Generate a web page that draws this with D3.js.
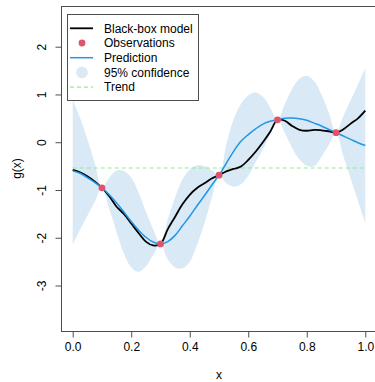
<!DOCTYPE html>
<html>
<head>
<meta charset="utf-8">
<script src="https://cdn.jsdelivr.net/npm/d3@7"></script>
<style>
  body { margin: 0; background: #fff; }
  svg { display: block; font-family: "Liberation Sans", Arial, sans-serif; }
  .axis-label { font-size: 12px; fill: #000; }
</style>
</head>
<body>
<svg id="chart"></svg>
<script>
// grid the curves were read on
const xGrid = [0, 0.025, 0.05, 0.075, 0.1, 0.125, 0.15, 0.175, 0.2, 0.225, 0.25, 0.275, 0.3,
  0.325, 0.35, 0.375, 0.4, 0.425, 0.45, 0.475, 0.5, 0.525, 0.55, 0.575, 0.6, 0.625, 0.65,
  0.675, 0.7, 0.725, 0.75, 0.775, 0.8, 0.825, 0.85, 0.875, 0.9, 0.925, 0.95, 0.975, 1.0];

// black-box model g(x)
const modelY = [-0.58, -0.63, -0.71, -0.82, -0.955, -1.13, -1.35, -1.50, -1.70, -1.90, -2.08, -2.16, -2.13,
  -1.82, -1.56, -1.30, -1.10, -0.96, -0.86, -0.76, -0.69, -0.61, -0.56, -0.51, -0.37, -0.20, 0.00,
  0.22, 0.47, 0.45, 0.34, 0.26, 0.24, 0.26, 0.25, 0.23, 0.20, 0.27, 0.39, 0.50, 0.66];

// kriging prediction
const predY = [-0.60, -0.65, -0.74, -0.84, -0.955, -1.10, -1.27, -1.46, -1.66, -1.84, -1.99, -2.09, -2.13,
  -2.08, -1.95, -1.75, -1.55, -1.33, -1.12, -0.90, -0.69, -0.44, -0.19, 0.02, 0.16, 0.28, 0.38,
  0.44, 0.47, 0.50, 0.505, 0.49, 0.46, 0.40, 0.34, 0.27, 0.20, 0.13, 0.06, -0.01, -0.07];

// 95% band
const upperY = [0.90, 0.51, 0.06, -0.43, -0.955, -0.74, -0.59, -0.60, -0.74, -1.05, -1.45, -1.82, -2.13,
  -1.62, -1.15, -0.78, -0.57, -0.48, -0.50, -0.58, -0.69, -0.05, 0.48, 0.80, 0.98, 1.04, 0.95,
  0.72, 0.47, 0.80, 1.12, 1.33, 1.39, 1.28, 1.00, 0.62, 0.20, 0.55, 0.88, 1.21, 1.55];
const lowerY = [-2.14, -1.83, -1.54, -1.25, -0.955, -1.40, -1.88, -2.33, -2.62, -2.71, -2.60, -2.36, -2.13,
  -2.45, -2.62, -2.64, -2.50, -2.15, -1.70, -1.18, -0.69, -0.86, -0.93, -0.88, -0.70, -0.42, -0.15,
  0.17, 0.47, 0.20, -0.12, -0.36, -0.49, -0.50, -0.31, -0.06, 0.20, -0.29, -0.76, -1.23, -1.69];

const obsX = [0.1, 0.3, 0.5, 0.7, 0.9];
const obsY = [-0.955, -2.13, -0.69, 0.47, 0.20];
const trendValue = -0.54;

const xTicks = [0, 0.2, 0.4, 0.6, 0.8, 1.0];
const xTickLabels = ['0.0', '0.2', '0.4', '0.6', '0.8', '1.0'];
const yTicks = [-3, -2, -1, 0, 1, 2];
const yTickLabels = ['-3', '-2', '-1', '0', '1', '2'];

const legendLabels = ['Black-box model', 'Observations', 'Prediction', '95% confidence', 'Trend'];

const colors = {
  model: '#000000',
  obs: '#DF536B',
  pred: '#2297E6',
  band: '#d9e9f6',
  trend: '#90ee90',
  axis: '#4d4d4d'
};

const width = 375, height = 382;
const plot = {left: 61, top: 6, right: 377, bottom: 331};

const svg = d3.select('#chart')
    .attr('width', width)
    .attr('height', height);

const x = d3.scaleLinear().domain([-0.04, 1.04]).range([plot.left, plot.right]);
const y = d3.scaleLinear().domain([-3.952, 2.852]).range([plot.bottom, plot.top]);

svg.append('clipPath')
    .attr('id', 'plot-clip')
  .append('rect')
    .attr('x', plot.left).attr('y', plot.top)
    .attr('width', plot.right - plot.left).attr('height', plot.bottom - plot.top);

const rows = xGrid.map((d, i) => ({
  x: d, model: modelY[i], pred: predY[i], lo: lowerY[i], hi: upperY[i]
}));

const chart = svg.append('g').attr('clip-path', 'url(#plot-clip)');

// confidence band
chart.append('path')
    .datum(rows)
    .attr('fill', colors.band)
    .attr('d', d3.area()
        .x(d => x(d.x))
        .y0(d => y(d.lo))
        .y1(d => y(d.hi))
        .curve(d3.curveCatmullRom.alpha(0.5)));

// trend
chart.append('line')
    .attr('x1', x(0)).attr('x2', x(1))
    .attr('y1', y(trendValue)).attr('y2', y(trendValue))
    .attr('stroke', colors.trend)
    .attr('stroke-width', 1.2)
    .attr('stroke-dasharray', '4,3');

const line = key => d3.line()
    .x(d => x(d.x))
    .y(d => y(d[key]))
    .curve(d3.curveCatmullRom.alpha(0.5));

chart.append('path')
    .datum(rows)
    .attr('fill', 'none')
    .attr('stroke', colors.model)
    .attr('stroke-width', 1.8)
    .attr('d', line('model'));

chart.append('path')
    .datum(rows)
    .attr('fill', 'none')
    .attr('stroke', colors.pred)
    .attr('stroke-width', 1.5)
    .attr('d', line('pred'));

chart.selectAll('circle.obs')
    .data(obsX.map((d, i) => ({x: d, y: obsY[i]})))
    .join('circle')
    .attr('class', 'obs')
    .attr('cx', d => x(d.x))
    .attr('cy', d => y(d.y))
    .attr('r', 3.4)
    .attr('fill', colors.obs);

// box
svg.append('rect')
    .attr('x', plot.left + 0.5).attr('y', plot.top + 0.5)
    .attr('width', plot.right - plot.left).attr('height', plot.bottom - plot.top)
    .attr('fill', 'none')
    .attr('stroke', colors.axis);

// x axis, R style
const xAxis = d3.axisBottom(x)
    .tickValues(xTicks)
    .tickFormat((d, i) => xTickLabels[i])
    .tickSize(6)
    .tickPadding(5)
    .tickSizeOuter(0);

const xAxisG = svg.append('g')
    .attr('transform', `translate(0,${plot.bottom + 0.5})`)
    .call(xAxis);
xAxisG.select('.domain')
    .attr('d', `M${x(0)},0H${x(1)}`)
    .attr('stroke', colors.axis);

// y axis, labels turned as in R
const yAxis = d3.axisLeft(y)
    .tickValues(yTicks)
    .tickFormat((d, i) => yTickLabels[i])
    .tickSize(6)
    .tickSizeOuter(0);

const yAxisG = svg.append('g')
    .attr('transform', `translate(${plot.left + 0.5},0)`)
    .call(yAxis);
yAxisG.select('.domain')
    .attr('d', `M0,${y(-3)}V${y(2)}`)
    .attr('stroke', colors.axis);
yAxisG.selectAll('.tick text')
    .attr('x', null).attr('dy', null)
    .attr('transform', 'translate(-16,0) rotate(-90)')
    .attr('text-anchor', 'middle');

svg.selectAll('.tick line').attr('stroke', colors.axis);
svg.selectAll('.tick text')
    .attr('font-size', 12)
    .attr('font-family', '"Liberation Sans", Arial, sans-serif')
    .attr('fill', '#000');

// axis titles
svg.append('text')
    .attr('class', 'axis-label')
    .attr('x', (plot.left + plot.right) / 2)
    .attr('y', 379)
    .attr('text-anchor', 'middle')
    .text('x');

svg.append('text')
    .attr('class', 'axis-label')
    .attr('transform', `translate(21,${(plot.top + plot.bottom) / 2}) rotate(-90)`)
    .attr('text-anchor', 'middle')
    .text('g(x)');

// legend
const legend = svg.append('g').attr('transform', 'translate(67.5,14.5)');
legend.append('rect')
    .attr('width', 131).attr('height', 86)
    .attr('fill', '#fff')
    .attr('stroke', colors.axis);

const rowH = 14.7, row0 = 13.8;
const item = legend.selectAll('g.item')
    .data(legendLabels)
    .join('g')
    .attr('class', 'item')
    .attr('transform', (d, i) => `translate(0,${row0 + i * rowH})`);

item.append('text')
    .attr('class', 'axis-label')
    .attr('x', 36.5)
    .attr('y', 4.3)
    .text(d => d);

legend.append('line')
    .attr('x1', 2.5).attr('x2', 25.5)
    .attr('y1', row0).attr('y2', row0)
    .attr('stroke', colors.model).attr('stroke-width', 1.8);
legend.append('circle')
    .attr('cx', 14.5).attr('cy', row0 + rowH)
    .attr('r', 3.4).attr('fill', colors.obs);
legend.append('line')
    .attr('x1', 2.5).attr('x2', 25.5)
    .attr('y1', row0 + 2 * rowH).attr('y2', row0 + 2 * rowH)
    .attr('stroke', colors.pred).attr('stroke-width', 1.5);
legend.append('circle')
    .attr('cx', 14.5).attr('cy', row0 + 3 * rowH)
    .attr('r', 5.8).attr('fill', colors.band);
legend.append('line')
    .attr('x1', 2.5).attr('x2', 25.5)
    .attr('y1', row0 + 4 * rowH).attr('y2', row0 + 4 * rowH)
    .attr('stroke', colors.trend).attr('stroke-width', 1.2)
    .attr('stroke-dasharray', '4,3');
</script>
</body>
</html>
